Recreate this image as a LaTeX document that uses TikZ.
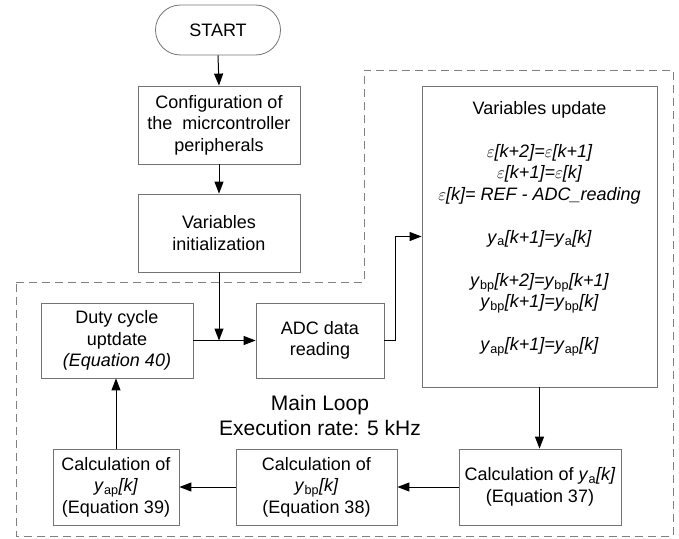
\documentclass[tikz,border=0pt]{standalone}
\usepackage{fontspec}
\setmainfont{Liberation Sans}
\usetikzlibrary{arrows.meta}
\usetikzlibrary{shapes.misc}
\tikzset{blk/.style={draw=black!55, line width=0.8pt, align=center, inner sep=2pt, font=\fontsize{18}{21.5}\selectfont}}
\tikzset{arr/.style={-{Triangle[length=12pt,width=9pt]}, line width=1pt}}
\tikzset{dashline/.style={draw=black!50, dash pattern=on 8pt off 5pt, line width=1pt}}
\newcommand{\ysub}[1]{\textit{y}\textsubscript{#1}}

\begin{document}
\begin{tikzpicture}[x=1pt,y=-1pt]
				\useasboundingbox (0,0) rectangle (679,538);
				% outline of the main loop
				\draw[dashline] (16,282) -- (364,282) -- (364,70) -- (673,70) -- (673,536) -- (16,536) -- cycle;
				%
				\node (start)[blk, rounded rectangle, minimum width=129, minimum height=50] at (218,30){START};
				\node (conf)[blk, minimum width=162, minimum height=78] at (219,125){Configuration of\\the\ \ micrcontroller\\peripherals};
				\node (init)[blk, minimum width=162, minimum height=78] at (219,233){Variables\\initialization};
				\draw[arr] (start.south) -- (conf.north);
				\draw[arr] (conf.south) -- (init.north);
				%
				\node (duty)[blk, minimum width=152, minimum height=75] at (117,340.5){Duty cycle\\uptdate\\\textit{(Equation 40)}};
				\node (adc)[blk, minimum width=128, minimum height=75] at (320,340.5){ADC data\\reading};
				\node (upd)[blk, minimum width=235, minimum height=301] at (539.5,236.5){Variables update\\[21.5pt]
					{\itshape $\varepsilon$[k+2]=$\varepsilon$[k+1]}\\
					{\itshape $\varepsilon$[k+1]=$\varepsilon$[k]}\\
					{\itshape $\varepsilon$[k]= REF - ADC\_reading}\\[21.5pt]
					\ysub{a}\textit{[k+1]=}\ysub{a}\textit{[k]}\\[21.5pt]
					\ysub{bp}\textit{[k+2]=}\ysub{bp}\textit{[k+1]}\\
					\ysub{bp}\textit{[k+1]=}\ysub{bp}\textit{[k]}\\[21.5pt]
					\ysub{ap}\textit{[k+1]=}\ysub{ap}\textit{[k]}\\ \mbox{}};
				\coordinate (jn) at (init.south |- duty.east);
				\draw[arr] (init.south) -- (jn);
				\draw[arr] (duty.east) -- (adc.west);
				\draw[arr] (adc.east) -- ++(11,0) |- (upd.west);
				%
				\node (lbl)[align=center, font=\fontsize{21}{25}\selectfont] at (320,415){Main Loop\\Execution rate: 5 kHz};
				%
				\node (calcA)[blk, minimum width=162, minimum height=76] at (540,487){Calculation of \ysub{a}\textit{[k]}\\(Equation 37)};
				\node (calcB)[blk, minimum width=161, minimum height=76] at (316.5,487){Calculation of\\\ysub{bp}\textit{[k]}\\(Equation 38)};
				\node (calcC)[blk, minimum width=126, minimum height=76] at (116,487){Calculation of\\\ysub{ap}\textit{[k]}\\(Equation 39)};
				\draw[arr] (upd.south) -- (upd.south |- calcA.north);
				\draw[arr] (calcA.west) -- (calcB.east);
				\draw[arr] (calcB.west) -- (calcC.east);
				\draw[arr] (calcC.north) -- (calcC.north |- duty.south);
			\end{tikzpicture}
\end{document}
